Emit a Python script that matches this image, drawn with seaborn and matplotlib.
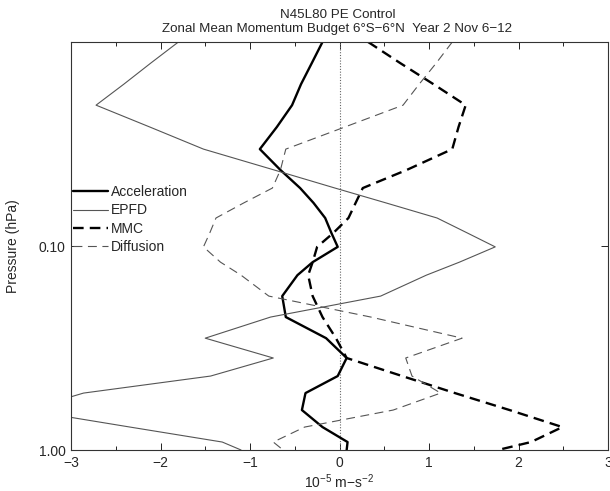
import numpy as np
import pandas as pd
import matplotlib
matplotlib.use("Agg")
import matplotlib.pyplot as plt
import seaborn as sns
from matplotlib.ticker import NullLocator, FixedLocator, MultipleLocator

# Model pressure levels (hPa)
pressure = [0.0100, 0.0127, 0.0161, 0.0204, 0.0261, 0.0335, 0.0424, 0.0520,
            0.0615, 0.0729, 0.0864, 0.101, 0.120, 0.139, 0.176, 0.223,
            0.283, 0.354, 0.434, 0.526, 0.637, 0.772, 0.914, 1.00]

# Momentum budget terms (10^-5 m s^-2)
acceleration = [-0.19, -0.31, -0.43, -0.53, -0.70, -0.89, -0.66, -0.44,
                -0.29, -0.16, -0.09, -0.02, -0.30, -0.47, -0.64, -0.60,
                -0.15, 0.08, -0.02, -0.38, -0.42, -0.19, 0.09, 0.08]
epfd = [-1.80, -2.11, -2.41, -2.72, -2.12, -1.52, -0.73, -0.05,
        0.52, 1.09, 1.43, 1.74, 1.34, 0.97, 0.46, -0.77,
        -1.50, -0.74, -1.44, -2.86, -3.50, -2.34, -1.31, -1.10]
mmc = [0.32, 0.68, 1.05, 1.41, 1.33, 1.26, 0.75, 0.26,
       0.18, 0.10, -0.07, -0.25, -0.30, -0.35, -0.30, -0.19,
       -0.04, 0.08, 0.70, 1.29, 1.90, 2.49, 2.14, 1.77]
diffusion = [1.26, 1.08, 0.89, 0.71, 0.06, -0.60, -0.66, -0.75,
             -1.07, -1.38, -1.45, -1.52, -1.33, -1.10, -0.79, 0.35,
             1.37, 0.74, 0.81, 1.13, 0.60, -0.39, -0.74, -0.63]

series_names = ["Acceleration", "EPFD", "MMC", "Diffusion"]
series_values = [acceleration, epfd, mmc, diffusion]

x_ticks = [-3, -2, -1, 0, 1, 2, 3]
y_ticks = [0.10, 1.00]
y_tick_labels = ["0.10", "1.00"]

title_line1 = "N45L80 PE Control"
title_line2 = "Zonal Mean Momentum Budget 6\u00b0S\u22126\u00b0N  Year 2 Nov 6\u221212"
x_label = r"10$^{-5}$ m$-$s$^{-2}$"
y_label = "Pressure (hPa)"

df = pd.DataFrame({
    "pressure": pressure * len(series_names),
    "value": sum(series_values, []),
    "series": np.repeat(series_names, len(pressure)),
})

sns.set_theme(style="ticks")
plt.rcParams["font.family"] = ["Liberation Sans", "DejaVu Sans"]
plt.rcParams["mathtext.fontset"] = "custom"
plt.rcParams["mathtext.rm"] = "Liberation Sans"
plt.rcParams["mathtext.it"] = "Liberation Sans:italic"
plt.rcParams["mathtext.sf"] = "Liberation Sans"

W, H = 610, 491
fig = plt.figure(figsize=(W / 100, H / 100), dpi=100)
ax = fig.add_axes([71 / W, 1 - 450 / H, 537 / W, 408 / H])

styles = {
    "Acceleration": dict(color="black", lw=1.7, dashes=None),
    "EPFD": dict(color="#555555", lw=0.8, dashes=None),
    "MMC": dict(color="black", lw=1.7, dashes=(4.5, 2.6)),
    "Diffusion": dict(color="#555555", lw=0.8, dashes=(8, 5)),
}

ax.axvline(0, color="#666666", lw=0.8, ls=(0, (1, 1.5)), zorder=1)

handles = []
for name in series_names:
    st = styles[name]
    sub = df[df["series"] == name]
    sns.lineplot(data=sub, x="value", y="pressure", sort=False, estimator=None,
                 orient="y", ax=ax, color=st["color"], linewidth=st["lw"],
                 legend=False)
    line = ax.lines[-1]
    if st["dashes"] is not None:
        line.set_dashes(st["dashes"])
    line.set_label(name)
    handles.append(line)

ax.set_yscale("log")
ax.set_ylim(1.0, 0.01)
ax.set_xlim(-3, 3)
ax.yaxis.set_major_locator(FixedLocator(y_ticks))
ax.set_yticklabels(y_tick_labels)
ax.yaxis.set_minor_locator(NullLocator())
ax.xaxis.set_major_locator(FixedLocator(x_ticks))
ax.xaxis.set_minor_locator(MultipleLocator(0.5))
ax.set_xticklabels([f"{t}".replace("-", "\u2212") for t in x_ticks])

ax.tick_params(which="both", direction="in", top=True, right=True,
               labelsize=10, width=0.6, color="black")
ax.tick_params(which="major", length=5, pad=4)
ax.tick_params(which="minor", length=3)
for sp in ax.spines.values():
    sp.set_linewidth(0.8)
    sp.set_color("#333333")

ax.set_xlabel(x_label, fontsize=10, labelpad=2)
ax.set_ylabel(y_label, fontsize=10)
ax.yaxis.set_label_coords(-0.095, 0.5)

fig.text(338 / W, 1 - 18 / H, title_line1, ha="center", va="baseline", fontsize=9.6)
fig.text(337 / W, 1 - 32 / H, title_line2, ha="center", va="baseline", fontsize=9.6)

leg = ax.legend(handles=handles, loc="upper left",
                bbox_to_anchor=(0.004, (450 - 185) / 408), frameon=False,
                fontsize=10, handlelength=2.5, handletextpad=0.25,
                labelspacing=0.32, borderaxespad=0, borderpad=0)

fig.savefig("out.png", dpi=100)
